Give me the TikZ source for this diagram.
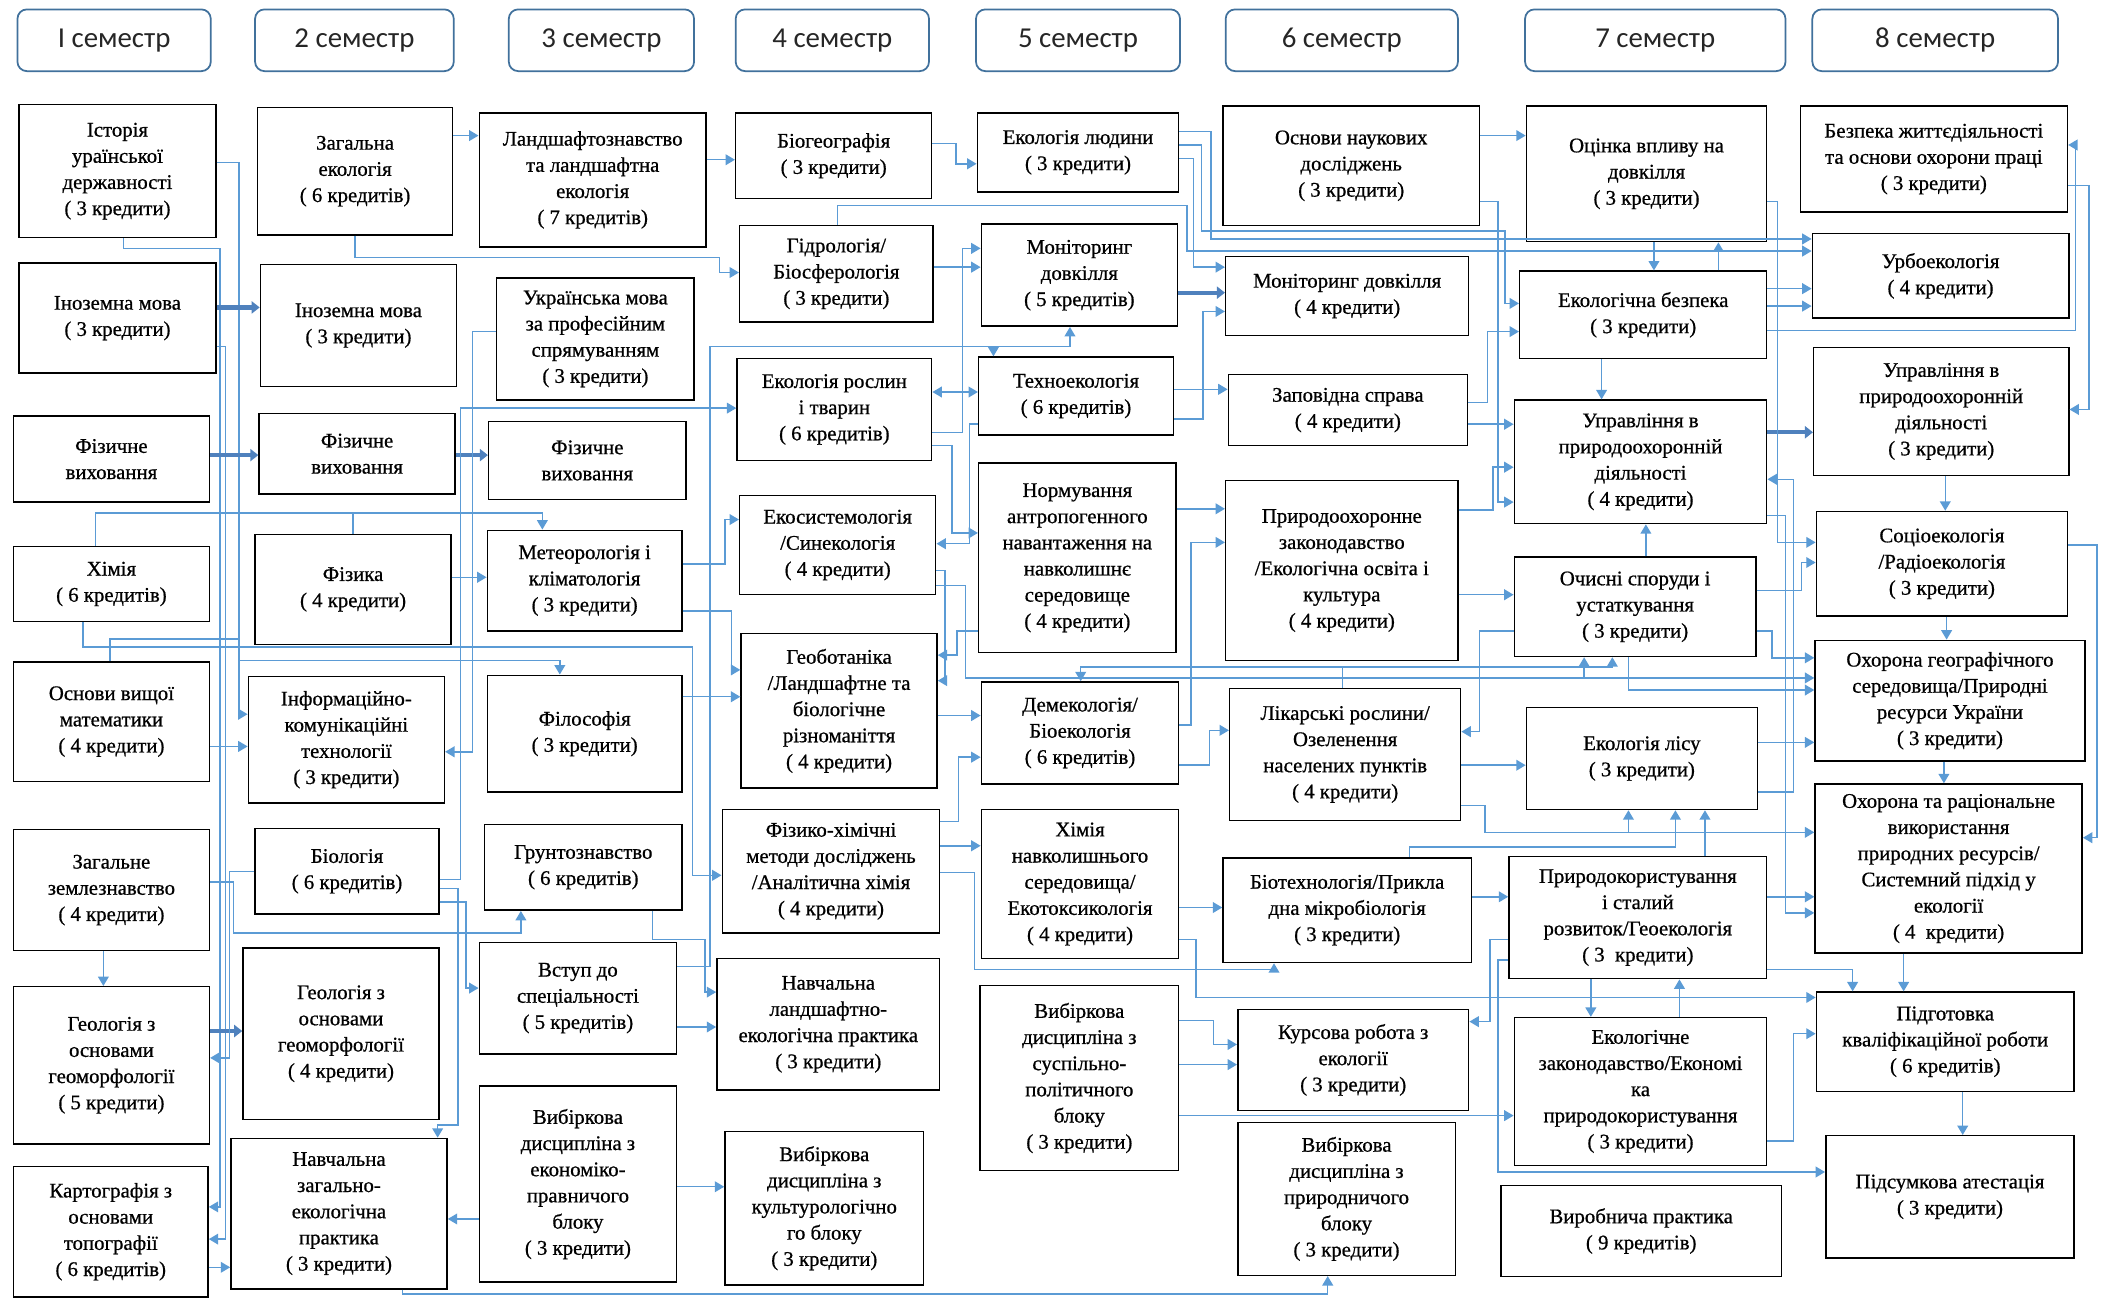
\documentclass[tikz,border=0pt]{standalone}
\usepackage{fontspec}
\setmainfont{Liberation Serif}
\newfontfamily\bxfont[FakeBold=0.7]{Liberation Serif}
\newfontfamily\hdrfont{Carlito}
\usetikzlibrary{arrows.meta,calc}
\definecolor{lblue}{HTML}{5B9BD5}
\definecolor{tblue}{HTML}{4F81BD}
\definecolor{hblue}{HTML}{41719C}
\tikzset{
 box/.style={draw=black, line width=1.1pt, fill=white, align=center, inner sep=1pt, font=\bxfont\fontsize{15.5}{19.5}\selectfont},
 hdr/.style={draw=hblue, line width=1.3pt, rounded corners=7pt, fill=white, text=black!85, font=\hdrfont\fontsize{21.5}{24}\selectfont},
 ln/.style={draw=lblue, line width=1.1pt},
 ar/.style={ln, -{Triangle[length=7pt,width=8pt]}},
 bar/.style={ln, {Triangle[length=7pt,width=8pt]}-{Triangle[length=7pt,width=8pt]}},
 thk/.style={draw=tblue, line width=3.2pt, -{Triangle[length=6pt,width=9pt]}},
}
\newcommand\mkbox[6]{\node[box, minimum width={(#4-#2)*1pt}, minimum height={(#5-#3)*1pt}] (#1) at ({(#2+#4)/2},{(#3+#5)/2}) {#6};}
\newcommand\mkhdr[4]{\node[hdr, minimum width={(#3-#2)*1pt}, minimum height=46pt] (#1) at ({(#2+#3)/2},30) {#4};}
\begin{document}
\begin{tikzpicture}[x=1pt,y=-1pt]
\useasboundingbox (0,0) rectangle (1568,971);
% headers
\mkhdr{h1}{13}{157}{I семестр}
\mkhdr{h2}{190}{338}{2 семестр}
\mkhdr{h3}{379}{517}{3 семестр}
\mkhdr{h4}{548}{692}{4 семестр}
\mkhdr{h5}{727}{879}{5 семестр}
\mkhdr{h6}{913}{1086}{6 семестр}
\mkhdr{h7}{1136}{1330}{7 семестр}
\mkhdr{h8}{1350}{1533}{8 семестр}
% column 1
\mkbox{ist}{14}{78}{161}{177}{Історія\\ураїнської\\державності\\( 3 кредити)}
\mkbox{ino1}{14}{196}{161}{278}{Іноземна мова\\( 3 кредити)}
\mkbox{fiz1}{10}{310}{156}{374}{Фізичне\\виховання}
\mkbox{him}{10}{407}{156}{463}{Хімія\\( 6 кредитів)}
\mkbox{ovm}{10}{493}{156}{582}{Основи вищої\\математики\\( 4 кредити)}
\mkbox{zz}{10}{618}{156}{708}{Загальне\\землезнавство\\( 4 кредити)}
\mkbox{geo1}{10}{735}{156}{852}{Геологія з\\основами\\геоморфології\\( 5 кредити)}
\mkbox{kart}{10}{869}{155}{966}{Картографія з\\основами\\топографії\\( 6 кредитів)}
% column 2
\mkbox{zag}{192}{80}{337}{175}{Загальна\\екологія\\( 6 кредитів)}
\mkbox{ino2}{194}{197}{340}{288}{Іноземна мова\\( 3 кредити)}
\mkbox{fiz2}{193}{308}{339}{368}{Фізичне\\виховання}
\mkbox{fizk}{190}{398}{336}{480}{Фізика\\( 4 кредити)}
\mkbox{ikt}{185}{504}{331}{598}{Інформаційно-\\комунікаційні\\технології\\( 3 кредити)}
\mkbox{biol}{190}{617}{327}{681}{Біологія\\( 6 кредитів)}
\mkbox{geo2}{181}{706}{327}{834}{Геологія з\\основами\\геоморфології\\( 4 кредити)}
\mkbox{navz}{172}{848}{333}{960}{Навчальна\\загально-\\екологічна\\практика\\( 3 кредити)}
% column 3
\mkbox{land}{357}{84}{526}{184}{Ландшафтознавство\\та ландшафтна\\екологія\\( 7 кредитів)}
\mkbox{ukr}{370}{207}{517}{298}{Українська мова\\за професійним\\спрямуванням\\( 3 кредити)}
\mkbox{fiz3}{364}{314}{511}{372}{Фізичне\\виховання}
\mkbox{met}{363}{395}{508}{470}{Метеорологія і\\кліматологія\\( 3 кредити)}
\mkbox{fil}{363}{503}{508}{590}{Філософія\\( 3 кредити)}
\mkbox{grunt}{361}{614}{508}{678}{Грунтознавство\\( 6 кредитів)}
\mkbox{vst}{357}{702}{504}{785}{Вступ до\\спеціальності\\( 5 кредитів)}
\mkbox{vibe}{357}{809}{504}{955}{Вибіркова\\дисципліна з\\економіко-\\правничого\\блоку\\( 3 кредити)}
% column 4
\mkbox{bio}{548}{84}{694}{148}{Біогеографія\\( 3 кредити)}
\mkbox{hid}{551}{168}{695}{240}{Гідрологія/\\Біосферологія\\( 3 кредити)}
\mkbox{er}{549}{267}{694}{343}{Екологія рослин\\і тварин\\( 6 кредитів)}
\mkbox{eks}{551}{369}{697}{443}{Екосистемологія\\/Синекологія\\( 4 кредити)}
\mkbox{geob}{552}{472}{698}{587}{Геоботаніка\\/Ландшафтне та\\біологічне\\різноманіття\\( 4 кредити)}
\mkbox{fhm}{538}{603}{700}{695}{Фізико-хімічні\\методи досліджень\\/Аналітична хімія\\( 4 кредити)}
\mkbox{navl}{534}{714}{700}{812}{Навчальна\\ландшафтно-\\екологічна практика\\( 3 кредити)}
\mkbox{vibk}{540}{843}{688}{957}{Вибіркова\\дисципліна з\\культурологічно\\го блоку\\( 3 кредити)}
% column 5
\mkbox{ekl}{728}{84}{878}{143}{Екологія людини\\( 3 кредити)}
\mkbox{mon5}{731}{167}{877}{243}{Моніторинг\\довкілля\\( 5 кредитів)}
\mkbox{tech}{729}{266}{874}{324}{Техноекологія\\( 6 кредитів)}
\mkbox{norm}{729}{345}{876}{486}{Нормування\\антропогенного\\навантаження на\\навколишнє\\середовище\\( 4 кредити)}
\mkbox{dem}{731}{508}{878}{584}{Демекологія/\\Біоекологія\\( 6 кредитів)}
\mkbox{hne}{731}{603}{878}{714}{Хімія\\навколишнього\\середовища/\\Екотоксикологія\\( 4 кредити)}
\mkbox{vsp}{730}{734}{878}{872}{Вибіркова\\дисципліна з\\суспільно-\\політичного\\блоку\\( 3 кредити)}
% column 6
\mkbox{onz}{911}{79}{1102}{168}{Основи наукових\\досліджень\\( 3 кредити)}
\mkbox{mon6}{913}{191}{1094}{250}{Моніторинг довкілля\\( 4 кредити)}
\mkbox{zap}{915}{279}{1093}{332}{Заповідна справа\\( 4 кредити)}
\mkbox{prz}{913}{358}{1086}{492}{Природоохоронне\\законодавство\\/Екологічна освіта і\\культура\\( 4 кредити)}
\mkbox{lik}{916}{513}{1088}{611}{Лікарські рослини/\\Озеленення\\населених пунктів\\( 4 кредити)}
\mkbox{bt}{911}{639}{1096}{717}{Біотехнологія/Прикла\\дна мікробіологія\\( 3 кредити)}
\mkbox{kur}{922}{752}{1094}{827}{Курсова робота з\\екології\\( 3 кредити)}
\mkbox{vpr}{922}{836}{1084}{950}{Вибіркова\\дисципліна з\\природничого\\блоку\\( 3 кредити)}
% column 7
\mkbox{ocv}{1137}{79}{1316}{180}{Оцінка впливу на\\довкілля\\( 3 кредити)}
\mkbox{eb}{1132}{202}{1316}{267}{Екологічна безпека\\( 3 кредити)}
\mkbox{upr4}{1128}{298}{1316}{390}{Управління в\\природоохоронній\\діяльності\\( 4 кредити)}
\mkbox{ocs}{1128}{415}{1308}{489}{Очисні споруди і\\устаткування\\( 3 кредити)}
\mkbox{ecl}{1137}{527}{1309}{603}{Екологія лісу\\( 3 кредити)}
\mkbox{prk}{1124}{638}{1316}{729}{Природокористування\\і сталий\\розвиток/Геоекологія\\( 3\ \ кредити)}
\mkbox{ekz}{1128}{758}{1316}{868}{Екологічне\\законодавство/Економі\\ка\\природокористування\\( 3 кредити)}
\mkbox{vyr}{1118}{883}{1327}{951}{Виробнича практика\\( 9 кредитів)}
% column 8
\mkbox{bzp}{1341}{79}{1540}{158}{Безпека життєдіяльності\\та основи охорони праці\\( 3 кредити)}
\mkbox{urb}{1350}{174}{1541}{237}{Урбоекологія\\( 4 кредити)}
\mkbox{upr3}{1351}{259}{1541}{354}{Управління в\\природоохоронній\\діяльності\\( 3 кредити)}
\mkbox{soc}{1353}{381}{1540}{459}{Соціоекологія\\/Радіоекологія\\( 3 кредити)}
\mkbox{ohg}{1352}{477}{1553}{567}{Охорона географічного\\середовища/Природні\\ресурси України\\( 3 кредити)}
\mkbox{orr}{1352}{584}{1551}{710}{Охорона та раціональне\\використання\\природних ресурсів/\\Системний підхід у\\екології\\( 4\ \ кредити)}
\mkbox{pidg}{1353}{739}{1545}{813}{Підготовка\\кваліфікаційної роботи\\( 6 кредитів)}
\mkbox{pids}{1360}{846}{1545}{937}{Підсумкова атестація\\( 3 кредити)}
% ---------------- connectors ----------------
% gap 1
\draw[ar] (ist.east|-0,121) -- (178,121) -- (178,532) -- (ikt.west|-0,532);
\draw[ar] (ist.east|-0,121) -- (178,121) -- (178,492) -- (417,492) -- (fil.north-|417,0);
\draw[ar] (ist.south-|92,0) -- (92,185) -- (164,185) -- (164,899) -- (kart.east|-0,899);
\draw[ar] (ino1.east|-0,258) -- (168,258) -- (168,923) -- (kart.east|-0,923);
\draw[thk] (ino1.east|-0,229) -- (ino2.west|-0,229);
\draw[thk] (fiz1.east|-0,339) -- (fiz2.west|-0,339);
\draw[thk] (fiz2.east|-0,339) -- (fiz3.west|-0,339);
\draw[ar] (him.north-|71,0) -- (71,382) -- (404,382) -- (met.north-|404,0);
\draw[ln] (fizk.north) -- (fizk.north|-0,382);
\draw[ar] (fizk.east|-0,430) -- (met.west|-0,430);
\draw[ar] (him.south-|62,0) -- (62,482) -- (516,482) -- (516,652) -- (fhm.west|-0,652);
\draw[ln] (ovm.north-|82,0) -- (82,476) -- (178,476);
\draw[ar] (ovm.east|-0,556) -- (ikt.west|-0,556);
\draw[ar] (zz.south-|77,0) -- (geo1.north-|77,0);
\draw[ar] (zz.east|-0,657) -- (174,657) -- (174,695) -- (388,695) -- (grunt.south-|388,0);
\draw[thk] (geo1.east|-0,768) -- (geo2.west|-0,768);
\draw[ar] (biol.west|-0,649) -- (171,649) -- (171,788) -- (geo1.east|-0,788);
\draw[ar] (kart.east|-0,944) -- (navz.west|-0,944);
% gap 2
\draw[ar] (vibe.west|-0,908) -- (navz.east|-0,908);
\draw[ar] (biol.east|-0,662) -- (341,662) -- (341,838) -- (326,838) -- (navz.north-|326,0);
\draw[ar] (biol.east|-0,672) -- (347,672) -- (347,736) -- (vst.west|-0,736);
\draw[ar] (ukr.west|-0,247) -- (352,247) -- (352,560) -- (ikt.east|-0,560);
\draw[ar] (zag.east|-0,101) -- (land.west|-0,101);
\draw[ar] (biol.east|-0,655) -- (343,655) -- (343,304) -- (er.west|-0,304);
% gap 3
\draw[ar] (land.east|-0,119) -- (bio.west|-0,119);
\draw[ar] (zag.south) -- (zag.south|-0,192) -- (536,192) -- (536,203) -- (hid.west|-0,203);
\draw[ar] (vst.east|-0,720) -- (529,720) -- (529,258) -- (740,258) -- (tech.north-|740,0);
\draw[ar] (vst.east|-0,720) -- (529,720) -- (529,258) -- (797,258) -- (mon5.south-|797,0);
\draw[ar] (met.east|-0,455) -- (545,455) -- (545,499) -- (geob.west|-0,499);
\draw[ar] (fil.east|-0,519) -- (geob.west|-0,519);
\draw[ar] (met.east|-0,420) -- (540,420) -- (540,387) -- (eks.west|-0,387);
\draw[ar] (grunt.south-|486,0) -- (486,700) -- (525,700) -- (525,739) -- (navl.west|-0,739);
\draw[ar] (vst.east|-0,765) -- (navl.west|-0,765);
\draw[ar] (vibe.east|-0,884) -- (vibk.west|-0,884);
\draw[ar] (navz.south-|300,0) -- (300,964) -- (989,964) -- (vpr.south-|989,0);
% gap 4
\draw[ar] (bio.east|-0,107) -- (712,107) -- (712,122) -- (ekl.west|-0,122);
\draw[ar] (hid.east|-0,199) -- (mon5.west|-0,199);
\draw[ar] (er.east|-0,322) -- (717,322) -- (717,185) -- (mon5.west|-0,185);
\draw[bar] (er.east|-0,292) -- (tech.west|-0,292);
\draw[ar] (tech.west|-0,316) -- (722,316) -- (722,405) -- (eks.east|-0,405);
\draw[ar] (er.east|-0,332) -- (709,332) -- (709,397) -- (norm.west|-0,397);
\draw[ar] (norm.west|-0,470) -- (713,470) -- (713,488) -- (geob.east|-0,488);
\draw[ar] (eks.east|-0,425) -- (704,425) -- (704,507) -- (geob.east|-0,507);
\draw[ar] (geob.east|-0,533) -- (dem.west|-0,533);
\draw[ar] (fhm.east|-0,612) -- (714,612) -- (714,564) -- (dem.west|-0,564);
\draw[ar] (fhm.east|-0,630) -- (hne.west|-0,630);
\draw[ar] (fhm.east|-0,650) -- (726,650) -- (726,722) -- (949,722) -- (bt.south-|949,0);
\draw[ar] (hid.north-|624,0) -- (624,153) -- (884,153) -- (884,187) -- (urb.west|-0,187);
\draw[ar] (ekl.east|-0,98) -- (902,98) -- (902,178) -- (urb.west|-0,178);
\draw[ar] (ekl.east|-0,108) -- (895,108) -- (895,172) -- (1121,172) -- (1121,226) -- (eb.west|-0,226);
% gap 5
\draw[thk] (mon5.east|-0,218) -- (mon6.west|-0,218);
\draw[ar] (ekl.east|-0,118) -- (889,118) -- (889,199) -- (mon6.west|-0,199);
\draw[ar] (tech.east|-0,312) -- (896,312) -- (896,232) -- (mon6.west|-0,232);
\draw[ar] (tech.east|-0,290) -- (zap.west|-0,290);
\draw[ar] (norm.east|-0,379) -- (prz.west|-0,379);
\draw[ar] (dem.east|-0,540) -- (887,540) -- (887,404) -- (prz.west|-0,404);
\draw[ar] (dem.east|-0,570) -- (901,570) -- (901,544) -- (lik.west|-0,544);
\draw[ar] (hne.east|-0,676) -- (bt.west|-0,676);
\draw[ar] (vsp.east|-0,793) -- (kur.west|-0,793);
\draw[ar] (vsp.east|-0,760) -- (904,760) -- (904,778) -- (kur.west|-0,778);
\draw[ar] (vsp.east|-0,831) -- (ekz.west|-0,831);
\draw[ar] (hne.east|-0,700) -- (891,700) -- (891,743) -- (pidg.west|-0,743);
% gaps 6-7
\draw[ar] (onz.east|-0,101) -- (ocv.west|-0,101);
\draw[ar] (zap.east|-0,300) -- (1108,300) -- (1108,247) -- (eb.west|-0,247);
\draw[ar] (ocv.south-|1232,0) -- (eb.north-|1232,0);
\draw[ar] (eb.north-|1280,0) -- (ocv.south-|1280,0);
\draw[ar] (eb.south-|1193,0) -- (upr4.north-|1193,0);
\draw[ar] (zap.east|-0,316) -- (upr4.west|-0,316);
\draw[ar] (prz.east|-0,380) -- (1112,380) -- (1112,348) -- (upr4.west|-0,348);
\draw[ar] (onz.east|-0,150) -- (1116,150) -- (1116,374) -- (upr4.west|-0,374);
\draw[thk] (upr4.east|-0,322) -- (upr3.west|-0,322);
\draw[ar] (ocs.north-|1226,0) -- (upr4.south-|1226,0);
\draw[ar] (prz.east|-0,443) -- (ocs.west|-0,443);
\draw[ar] (lik.north-|1000,0) -- (1000,497) -- (1201,497) -- (ocs.south-|1201,0);
\draw[ar] (lik.north-|1000,0) -- (1000,497) -- (805,497) -- (dem.north-|805,0);
\draw[ar] (eks.east|-0,436) -- (719,436) -- (719,505) -- (1180,505) -- (ocs.south-|1180,0);
\draw[ar] (eks.east|-0,436) -- (719,436) -- (719,505) -- (ohg.west|-0,505);
\draw[ar] (ocs.south-|1213,0) -- (1213,514) -- (ohg.west|-0,514);
\draw[ar] (ocs.west|-0,470) -- (1102,470) -- (1102,545) -- (lik.east|-0,545);
\draw[ar] (lik.east|-0,570) -- (ecl.west|-0,570);
\draw[ar] (ecl.east|-0,553) -- (ohg.west|-0,553);
\draw[ar] (prk.north-|1270,0) -- (ecl.south-|1270,0);
\draw[ar] (lik.east|-0,600) -- (1106,600) -- (1106,620) -- (orr.west|-0,620);
\draw[ar] (lik.east|-0,600) -- (1106,600) -- (1106,620) -- (1213,620) -- (ecl.south-|1213,0);
\draw[ar] (bt.north-|1050,0) -- (1050,631) -- (1248,631) -- (ecl.south-|1248,0);
\draw[ar] (bt.east|-0,668) -- (prk.west|-0,668);
\draw[ar] (prk.east|-0,668) -- (orr.west|-0,668);
\draw[ar] (upr4.east|-0,384) -- (1330,384) -- (1330,680) -- (orr.west|-0,680);
\draw[ar] (ecl.east|-0,590) -- (1336,590) -- (1336,357) -- (upr4.east|-0,357);
\draw[ar] (ocv.east|-0,150) -- (1324,150) -- (1324,404) -- (soc.west|-0,404);
\draw[ar] (ocs.east|-0,440) -- (1342,440) -- (1342,419) -- (soc.west|-0,419);
\draw[ar] (ocs.east|-0,470) -- (1320,470) -- (1320,490) -- (ohg.west|-0,490);
\draw[ar] (eb.east|-0,215) -- (urb.west|-0,215);
\draw[ar] (eb.east|-0,228) -- (urb.west|-0,228);
\draw[ar] (prk.west|-0,700) -- (1110,700) -- (1110,761) -- (kur.east|-0,761);
\draw[ar] (prk.west|-0,715) -- (1116,715) -- (1116,873) -- (pids.west|-0,873);
\draw[ar] (prk.south-|1185,0) -- (ekz.north-|1185,0);
\draw[ar] (ekz.north-|1251,0) -- (prk.south-|1251,0);
\draw[ar] (ekz.east|-0,850) -- (1336,850) -- (1336,770) -- (pidg.west|-0,770);
% column 8
\draw[ar] (eb.east|-0,246) -- (1546,246) -- (1546,108) -- (bzp.east|-0,108);
\draw[ar] (bzp.east|-0,138) -- (1556,138) -- (1556,305) -- (upr3.east|-0,305);
\draw[ar] (soc.east|-0,406) -- (1562,406) -- (1562,624) -- (orr.east|-0,624);
\draw[ar] (upr3.south-|1449,0) -- (soc.north-|1449,0);
\draw[ar] (soc.south-|1450,0) -- (ohg.north-|1450,0);
\draw[ar] (ohg.south-|1448,0) -- (orr.north-|1448,0);
\draw[ar] (orr.south-|1418,0) -- (pidg.north-|1418,0);
\draw[ar] (prk.east|-0,722) -- (1380,722) -- (pidg.north-|1380,0);
\draw[ar] (pidg.south-|1462,0) -- (pids.north-|1462,0);
\end{tikzpicture}
\end{document}
